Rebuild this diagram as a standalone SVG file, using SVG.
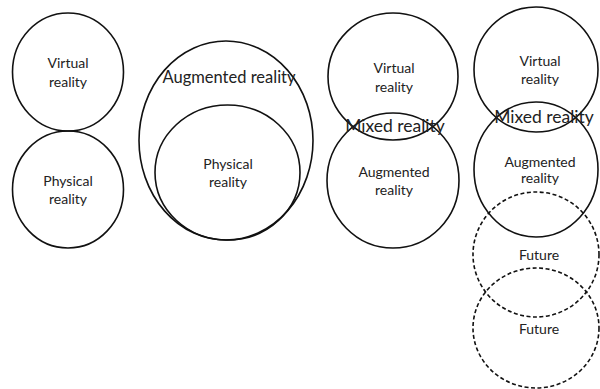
<svg xmlns="http://www.w3.org/2000/svg" width="600" height="389" viewBox="0 0 600 389">
  <style>
    .ring { fill: none; stroke: #111; stroke-width: 1.6; }
    .dash { fill: none; stroke: #111; stroke-width: 1.6; stroke-dasharray: 4 2.5; }
    text { font-family: Lato, "Liberation Sans", sans-serif; fill: #222; text-anchor: middle; }
    .s { font-size: 14px; }
    .l { font-size: 16.5px; }
    .m { font-size: 17.5px; }
  </style>
  <rect width="600" height="389" fill="#fff"/>

  <!-- column 1: separate realities -->
  <g id="vr1">
    <ellipse class="ring" cx="68" cy="72" rx="55.5" ry="59"/>
    <text class="s" x="68" y="68">Virtual</text>
    <text class="s" x="68" y="87">reality</text>
  </g>
  <g id="pr1">
    <ellipse class="ring" cx="68" cy="189.5" rx="55.5" ry="58.5"/>
    <text class="s" x="68" y="186">Physical</text>
    <text class="s" x="68" y="204">reality</text>
  </g>

  <!-- column 2: augmented reality containing physical reality -->
  <g id="ar2">
    <ellipse class="ring" cx="226" cy="140.5" rx="87" ry="99.5"/>
    <text class="l" x="229" y="83">Augmented reality</text>
  </g>
  <g id="pr2">
    <ellipse class="ring" cx="227.5" cy="172.5" rx="72.5" ry="67.5"/>
    <text class="s" x="228" y="169">Physical</text>
    <text class="s" x="228" y="187">reality</text>
  </g>

  <!-- column 3: mixed reality overlap -->
  <g id="vr3">
    <ellipse class="ring" cx="393" cy="76.5" rx="65" ry="63.5"/>
    <text class="s" x="394" y="73">Virtual</text>
    <text class="s" x="394" y="92">reality</text>
  </g>
  <g id="ar3">
    <ellipse class="ring" cx="393" cy="180.5" rx="66" ry="67.5"/>
    <text class="s" x="394" y="177">Augmented</text>
    <text class="s" x="394" y="195">reality</text>
  </g>
  <g id="mr3">
    <text class="m" x="395" y="132">Mixed reality</text>
  </g>

  <!-- column 4: mixed reality with future layers -->
  <g id="vr4">
    <ellipse class="ring" cx="536" cy="69.5" rx="62" ry="62.5"/>
    <text class="s" x="540" y="66">Virtual</text>
    <text class="s" x="540" y="84">reality</text>
  </g>
  <g id="ar4">
    <ellipse class="ring" cx="536" cy="169.5" rx="62" ry="67.5"/>
    <text class="s" x="540" y="167">Augmented</text>
    <text class="s" x="540" y="183">reality</text>
  </g>
  <g id="mr4">
    <text class="m" x="544" y="123">Mixed reality</text>
  </g>
  <g id="future1">
    <ellipse class="dash" cx="536" cy="254.5" rx="63" ry="62.5"/>
    <text class="s" x="539" y="260">Future</text>
  </g>
  <g id="future2">
    <ellipse class="dash" cx="536" cy="328" rx="63" ry="60"/>
    <text class="s" x="539" y="334">Future</text>
  </g>

  <g id="connectors"/>
</svg>
